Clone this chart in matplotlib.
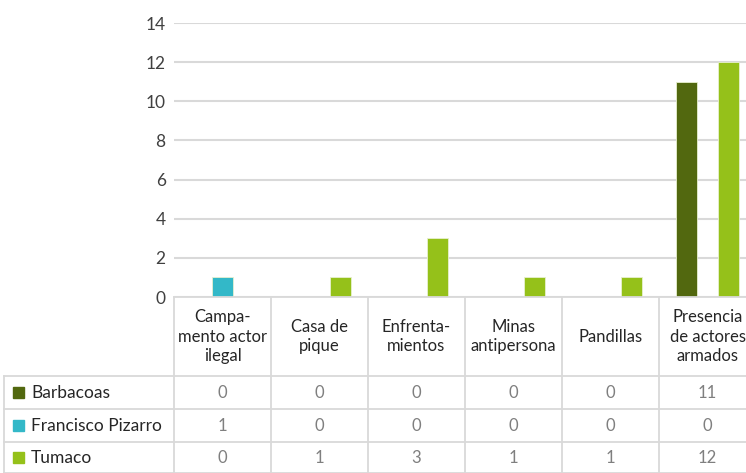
import matplotlib
matplotlib.use("Agg")
import matplotlib.pyplot as plt
import numpy as np

plt.rcParams['font.family'] = ['Lato', 'DejaVu Sans']

categories = ["Campa-\nmento actor\nilegal", "Casa de\npique", "Enfrenta-\nmientos",
              "Minas\nantipersona", "Pandillas", "Presencia\nde actores\narmados"]
series_names = ["Barbacoas", "Francisco Pizarro", "Tumaco"]
barbacoas = [0, 0, 0, 0, 0, 11]
pizarro = [1, 0, 0, 0, 0, 0]
tumaco = [0, 1, 3, 1, 1, 12]
series_values = [barbacoas, pizarro, tumaco]
colors = ["#52680f", "#33b8c8", "#95c11a"]
yticks = [0, 2, 4, 6, 8, 10, 12, 14]

W, H = 746, 473
fig = plt.figure(figsize=(W / 100, H / 100), dpi=100)

# plot area in pixels
L, R, T, B = 174, 756, 23, 297
ax = fig.add_axes([L / W, (H - B) / H, (R - L) / W, (B - T) / H])
n = len(categories)
x = np.arange(n)
width = 0.215
offsets = [-0.22, 0.0, 0.215]
for vals, off, c in zip(series_values, offsets, colors):
    ax.bar(x + off, vals, width, color=c, edgecolor="#e8f0d0", linewidth=0.6, zorder=3)
ax.set_xlim(-0.5, n - 0.5)
ax.set_ylim(0, 14)
ax.set_yticks(yticks)
ax.set_yticklabels([str(v) for v in yticks], fontsize=12.5, color="#404040")
ax.tick_params(axis='y', length=0, pad=6)
ax.set_xticks([])
for s in ax.spines.values():
    s.set_visible(False)
ax.grid(axis='y', color="#d9d9d9", linewidth=1.5, zorder=0)
ax.set_axisbelow(True)

# table overlay in pixel coordinates
tab = fig.add_axes([0, 0, 1, 1])
tab.set_xlim(0, W)
tab.set_ylim(H, 0)
tab.axis('off')
tab.patch.set_alpha(0)

colw = (R - L) / n
row_tops = [376, 409, 442, 473]
lc = "#d9d9d9"
lw = 1.3
# horizontal lines
tab.plot([L, W], [B, B], color=lc, lw=lw)
for yy in row_tops:
    tab.plot([4, W], [yy, yy], color=lc, lw=lw)
# vertical lines
for i in range(n + 1):
    xx = L + colw * i
    tab.plot([xx, xx], [B, H], color=lc, lw=lw)
tab.plot([4, 4], [row_tops[0], H], color=lc, lw=lw)

# header texts
for i, cat in enumerate(categories):
    cx = L + colw * (i + 0.5)
    tab.text(cx, (B + row_tops[0]) / 2, cat, ha='center', va='center', fontsize=12,
             color="#262626", linespacing=1.25)

# rows
for r, (name, vals, c) in enumerate(zip(series_names, series_values, colors)):
    cy = (row_tops[r] + row_tops[r + 1]) / 2
    tab.add_patch(plt.Rectangle((13, cy - 5.5), 11, 11, color=c))
    tab.text(31, cy, name, ha='left', va='center', fontsize=12.5, color="#262626")
    for i, v in enumerate(vals):
        cx = L + colw * (i + 0.5)
        tab.text(cx, cy, str(v), ha='center', va='center', fontsize=12, color="#7f7f7f")

fig.savefig("out.png", dpi=100)
